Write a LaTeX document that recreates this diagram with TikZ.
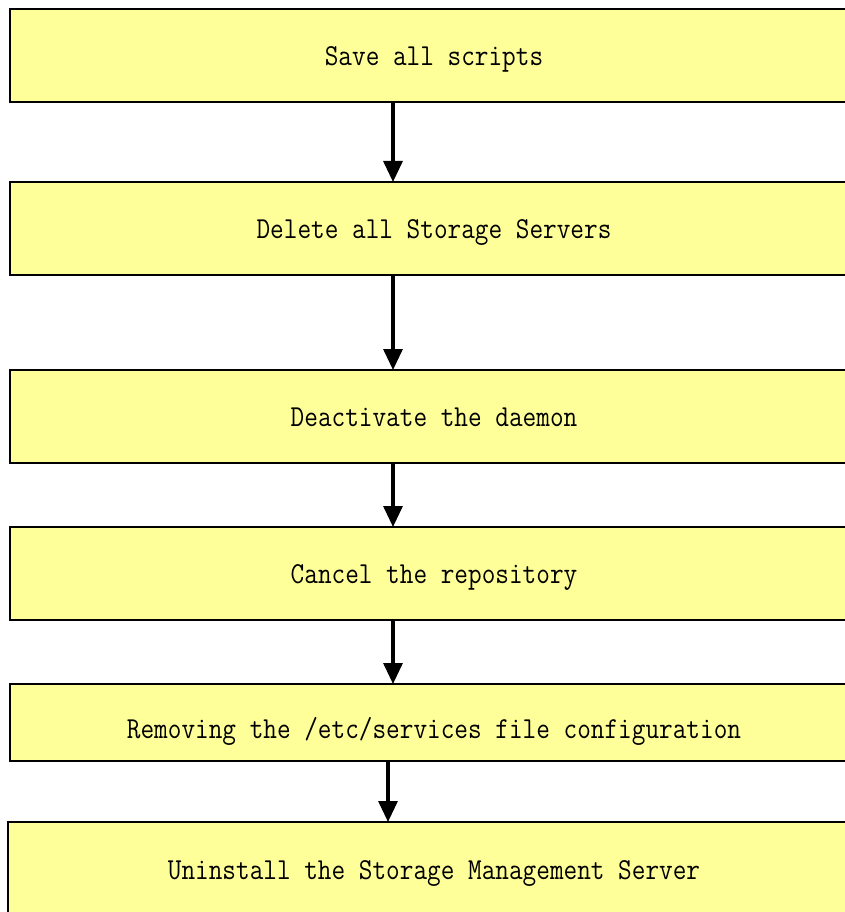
\documentclass[tikz,border=0pt]{standalone}
\usetikzlibrary{arrows.meta}
\definecolor{boxyellow}{RGB}{255,255,153}
\newcommand{\steptext}[1]{\scalebox{1}[1.15]{#1}}
\begin{document}
\begin{tikzpicture}[x=1pt,y=-1pt,
  stepbox/.style={draw=black,line width=2pt,fill=boxyellow,rectangle,inner sep=0pt,outer sep=0pt,
    minimum width=848pt,text height=20pt,text depth=0pt,font=\fontsize{26.5}{30}\selectfont\ttfamily},
  boxtext/.style={inner sep=0pt,text height=20pt,text depth=0pt,font=\fontsize{26.5}{30}\selectfont\ttfamily},
  flowarrow/.style={line width=3.2pt,-{Triangle[width=19pt,length=21pt]}}]
\useasboundingbox (0,0) rectangle (845,912);
\clip (0,0) rectangle (845,912);
\fill[white] (0,0) rectangle (845,912);
\node[stepbox,minimum height=93pt] (s1) at (434,55.5) {\steptext{Save all scripts}};
\node[stepbox,minimum height=93pt] (s2) at (434,228.5) {\steptext{Delete all Storage Servers}};
\node[stepbox,minimum height=93pt] (s3) at (434,416.5) {\steptext{Deactivate the daemon}};
\node[stepbox,minimum height=93pt] (s4) at (434,573.5) {\steptext{Cancel the repository}};
\node[stepbox,minimum height=77pt] (s5) at (434,722.5) {};
\node[boxtext] (t5) at ([yshift=-6pt]s5.center) {\steptext{Removing the /etc/services file configuration}};
\node[stepbox,minimum height=94pt,minimum width=852pt] (s6) at (434,869) {\steptext{Uninstall the Storage Management Server}};
\coordinate (ax) at (393,0);
\coordinate (bx) at (388,0);
\draw[flowarrow] (s1.south -| ax) -- (s2.north -| ax);
\draw[flowarrow] (s2.south -| ax) -- (s3.north -| ax);
\draw[flowarrow] (s3.south -| ax) -- (s4.north -| ax);
\draw[flowarrow] (s4.south -| ax) -- (s5.north -| ax);
\draw[flowarrow] (s5.south -| bx) -- (s6.north -| bx);
\end{tikzpicture}
\end{document}
